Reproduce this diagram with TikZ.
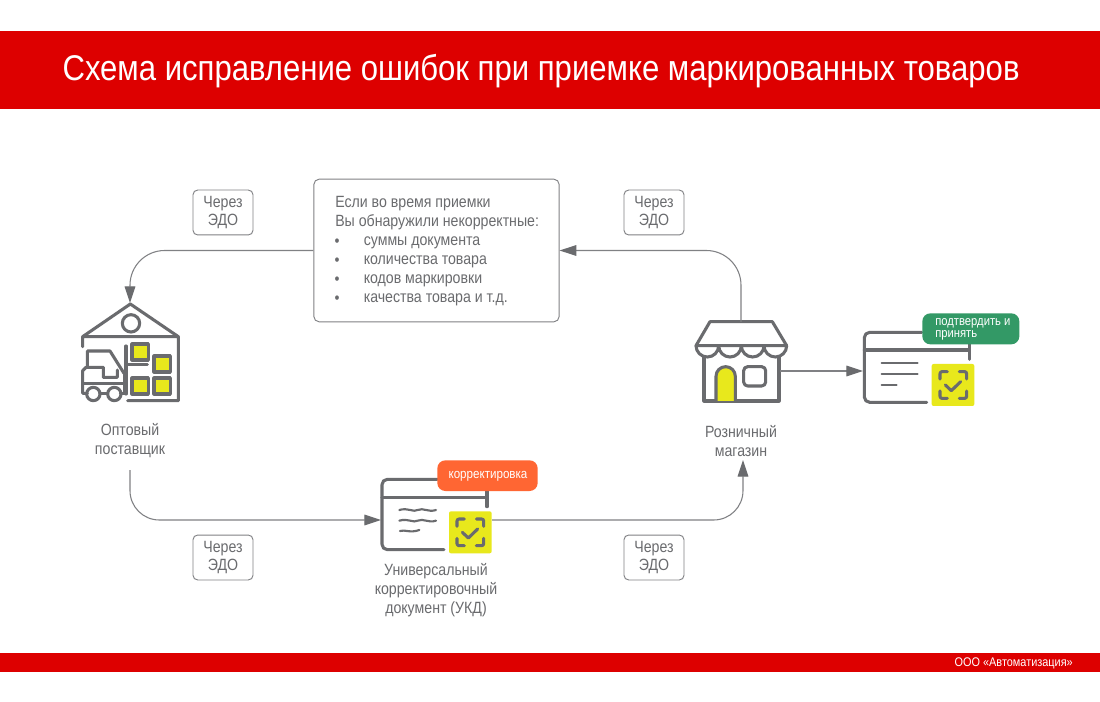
\documentclass[tikz,border=0pt]{standalone}
\usepackage{fontspec}
\setmainfont{Liberation Sans}[FakeStretch=0.87]
\usetikzlibrary{arrows.meta}
\definecolor{redbar}{HTML}{DD0000}
\definecolor{ink}{HTML}{6A6B6E}
\definecolor{wire}{HTML}{808184}
\definecolor{lime}{HTML}{E8E81C}
\definecolor{greentag}{HTML}{339966}
\definecolor{orangetag}{HTML}{FF6633}
\tikzset{
 x=.75pt,y=-.75pt,
 icon/.style={draw=ink,line width=2.3pt,line join=round,line cap=round},
 thin icon/.style={draw=ink,line width=1.6pt,line cap=round},
 wirearrow/.style={draw=wire,line width=.8pt,-{Triangle[length=12.5pt,width=8pt,fill=ink,color=ink]}},
 edo/.style={draw=wire,line width=.7pt,rounded corners=3.5pt,minimum width=45pt,minimum height=33.7pt,align=center,text=ink,font=\fontsize{12.2}{14.2}\selectfont,inner sep=0pt},
 lbl/.style={align=center,text=ink,font=\fontsize{12.2}{14.2}\selectfont,inner sep=0pt},
 tag/.style={text=white,inner sep=0pt},
 yellowbox/.style={fill=lime,rounded corners=1.5pt},
}
\newcommand{\scanicon}[2]{%
 \begin{scope}[shift={(#1,#2)}]
  \draw[icon,rounded corners=1.5pt] (-40,-18)--(-40,-40)--(-18,-40) (18,-40)--(40,-40)--(40,-18)
    (40,18)--(40,40)--(18,40) (-18,40)--(-40,40)--(-40,18);
  \draw[icon] (-24,0)--(-6,17)--(22,-10);
 \end{scope}}
\begin{document}
\begin{tikzpicture}
\useasboundingbox (0,0) rectangle (1100,702);
\fill[white] (0,0) rectangle (1100,702);
\fill[redbar] (0,31) rectangle (1100,109);
\fill[redbar] (0,653) rectangle (1100,672);
\node[tag,font=\fontsize{26.8}{32}\selectfont] (title) at (541,71) {Схема исправление ошибок при приемке маркированных товаров};
\node[tag,anchor=east,font=\fontsize{9.4}{11}\selectfont] (footer) at (1073,663.5) {ООО «Автоматизация»};

% info box
\node[draw=wire,line width=.7pt,rounded corners=4pt,minimum width=184pt,minimum height=107pt,inner sep=0pt] (info) at (436.5,250.5) {};
\node[lbl,anchor=north west,align=left] (infotext) at (335,196) {Если во время приемки\\Вы обнаружили некорректные:};
\foreach \yy/\tt in {243/суммы документа,262/количества товара,281/кодов маркировки,300/качества товара и т.д.}{
  \node[lbl,anchor=center] at (337,\yy) {•};
  \node[lbl,anchor=west] at (363.5,\yy) {\tt};
}
\node[edo] (e1) at (223,212.5) {Через\\ЭДО};
\node[edo] (e2) at (654,212.5) {Через\\ЭДО};
\node[edo] (e3) at (223,557.5) {Через\\ЭДО};
\node[edo] (e4) at (654,557.5) {Через\\ЭДО};

% labels
\node[lbl] (wlabel) at (130,441) {Оптовый\\поставщик};
\node[lbl] (slabel) at (741,441) {Розничный\\магазин};
\node[lbl] (dlabel) at (436,590) {Универсальный\\корректировочный\\документ (УКД)};

% warehouse icon
\begin{scope}[shift={(60,290)},xscale=1/3,yscale=1/3]
 \fill[lime] (216,162) rectangle (265,210) (282,198) rectangle (331,246) (216,264) rectangle (265,312) (282,264) rectangle (331,312);
 \draw[icon] (216,162) rectangle (265,210) (282,198) rectangle (331,246) (216,264) rectangle (265,312) (282,264) rectangle (331,312);
 \draw[icon] (68,170)--(68,140)--(211,42)--(355,140)--(355,332)--(203,332) (68,140)--(355,140);
 \draw[icon] (213,100) circle (26);
 \draw[icon] (198,168)--(198,312) (198,224)--(262,224);
 \draw[icon] (82,232)--(82,183)--(150,183)--(192,250);
 \draw[icon] (130,232)--(78,232)--(68,242)--(68,310)--(82,310) (130,232)--(130,262)--(172,262)--(172,240);
 \draw[icon] (68,280)--(198,280) (195,245)--(195,310)--(181,310) (120,310)--(143,310);
 \draw[icon] (100,312) circle (20) (163,312) circle (20);
\end{scope}
\coordinate (whtop) at (130,303);
\coordinate (whout) at (130,470);

% store icon
\begin{scope}[shift={(680,300)},xscale=1/3,yscale=1/3]
 \draw[icon] (72,170)--(72,303)--(297,303)--(297,170);
 \fill[lime] (108,303)--(108,229) arc[start angle=180,end angle=360,radius=29]--(166,303)--cycle;
 \draw[icon] (108,303)--(108,229) arc[start angle=180,end angle=360,radius=29]--(166,303);
 \draw[icon,rounded corners=3pt] (191,200) rectangle (257,258);
 \draw[icon] (48,137)--(90,65)--(277,65)--(320,137)--cycle;
 \draw[icon] (48,137) arc[start angle=180,end angle=0,radius=34] arc[start angle=180,end angle=0,radius=34] arc[start angle=180,end angle=0,radius=34] arc[start angle=180,end angle=0,radius=34];
\end{scope}
\coordinate (storetop) at (741,322);
\coordinate (storeright) at (780,371);
\coordinate (storein) at (743,460);

% document 2
\begin{scope}[shift={(680,300)},xscale=1/3,yscale=1/3]
 \draw[icon,rounded corners=4pt] (725,97)--(553,97)--(553,307)--(740,307);
 \draw[icon] (553,150)--(868,150) (868,130)--(868,178);
 \draw[thin icon] (605,190)--(713,190) (605,223)--(713,223) (605,254)--(650,254);
 \fill[yellowbox] (755,192) rectangle (883,318);
 \scanicon{820}{255}
 \fill[greentag,rounded corners=6pt] (727,40) rectangle (1018,133);
\end{scope}
\node[tag,anchor=north west,align=left,font=\fontsize{9.7}{9}\selectfont] (greenlbl) at (935,318) {подтвердить и\\принять};
\coordinate (doc2in) at (863,371);

% document 1
\begin{scope}[shift={(360,450)},xscale=1/3,yscale=1/3]
 \draw[icon,rounded corners=4pt] (232,88)--(66,88)--(66,299)--(252,299);
 \draw[icon] (66,142)--(381,142) (381,120)--(381,170);
 \draw[thin icon] (118,180) .. controls (145,172) and (160,188) .. (173,180) .. controls (190,172) and (205,188) .. (228,180);
 \draw[thin icon] (118,212) .. controls (145,204) and (160,220) .. (173,212) .. controls (190,204) and (205,220) .. (228,212);
 \draw[thin icon] (120,243) .. controls (135,238) and (150,250) .. (178,240);
 \fill[yellowbox] (267,184) rectangle (395,310);
 \scanicon{331}{247}
 \fill[orangetag,rounded corners=6pt] (232,31) rectangle (533,123);
\end{scope}
\node[tag,font=\fontsize{10}{11}\selectfont] (orangelbl) at (488,476) {корректировка};
\coordinate (doc1in) at (381,520);
\coordinate (doc1out) at (492,520);

% connectors
\draw[wirearrow,rounded corners=26pt] (info.west) -| (whtop);
\draw[wirearrow,rounded corners=26pt] (storetop) |- (info.east);
\draw[wirearrow,rounded corners=22pt] (whout) |- (doc1in);
\draw[wirearrow,rounded corners=22pt] (doc1out) -| (storein);
\draw[wirearrow] (storeright) -- (doc2in);
\end{tikzpicture}
\end{document}
